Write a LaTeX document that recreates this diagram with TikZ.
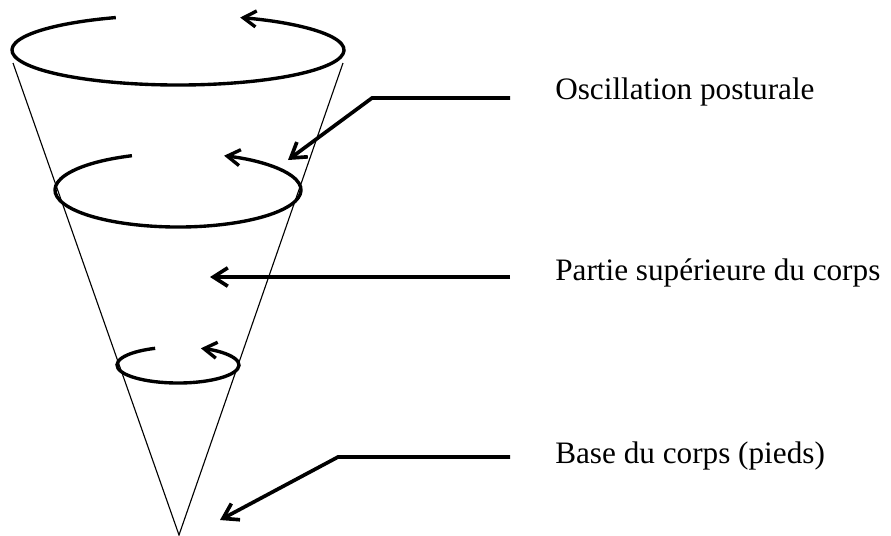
\documentclass[tikz,border=0pt]{standalone}
\usepackage{fontspec}
\setmainfont{Liberation Serif}
\usetikzlibrary{arrows.meta, positioning, calc}

\tikzset{
  cone/.style={line width=0.8pt},
  swirl/.style={line width=2.4pt, -{Straight Barb[length=3.2mm, width=4mm]}},
  pointer/.style={line width=2.6pt, -{Straight Barb[length=3.6mm, width=4.6mm]}},
  caption/.style={anchor=base west, inner sep=0pt, font=\fontsize{22.2}{26}\selectfont},
}

\begin{document}
\begin{tikzpicture}[x=0.025cm, y=0.025cm]
  \useasboundingbox (0,0) rectangle (891,-535);
  % cone
  \coordinate (apex) at (179,-535);
  \coordinate (coneL) at (13,-63);
  \coordinate (coneR) at (343,-63);
  \draw[cone] (coneL) -- (apex) -- (coneR);
  % rings with rotation arrows
  \foreach \cy/\rx/\ry in {50/166/35, 190/123/37, 365/61/18} {
    \coordinate (ring) at (178,-\cy);
    \draw[swirl] ($(ring)+({\rx*cos(112)},{\ry*sin(112)})$) arc[start angle=112, end angle=428, x radius=\rx, y radius=\ry];
  }
  % labels
  \node[caption] (osc) at (555,-99) {Oscillation posturale};
  \node[caption] (partie) at (555,-280) {Partie supérieure du corps};
  \node[caption] (base) at (555,-463) {Base du corps (pieds)};
  \coordinate (oscA) at (510,-98);
  \coordinate (oscB) at (372,-98);
  \coordinate (oscT) at (288,-160);
  \coordinate (partieA) at (510,-277);
  \coordinate (partieT) at (210,-277);
  \coordinate (baseA) at (510,-457);
  \coordinate (baseB) at (338,-457);
  \coordinate (baseT) at (220,-520);
  \draw[pointer] (oscA) -- (oscB) -- (oscT);
  \draw[pointer] (partieA) -- (partieT);
  \draw[pointer] (baseA) -- (baseB) -- (baseT);
\end{tikzpicture}
\end{document}
